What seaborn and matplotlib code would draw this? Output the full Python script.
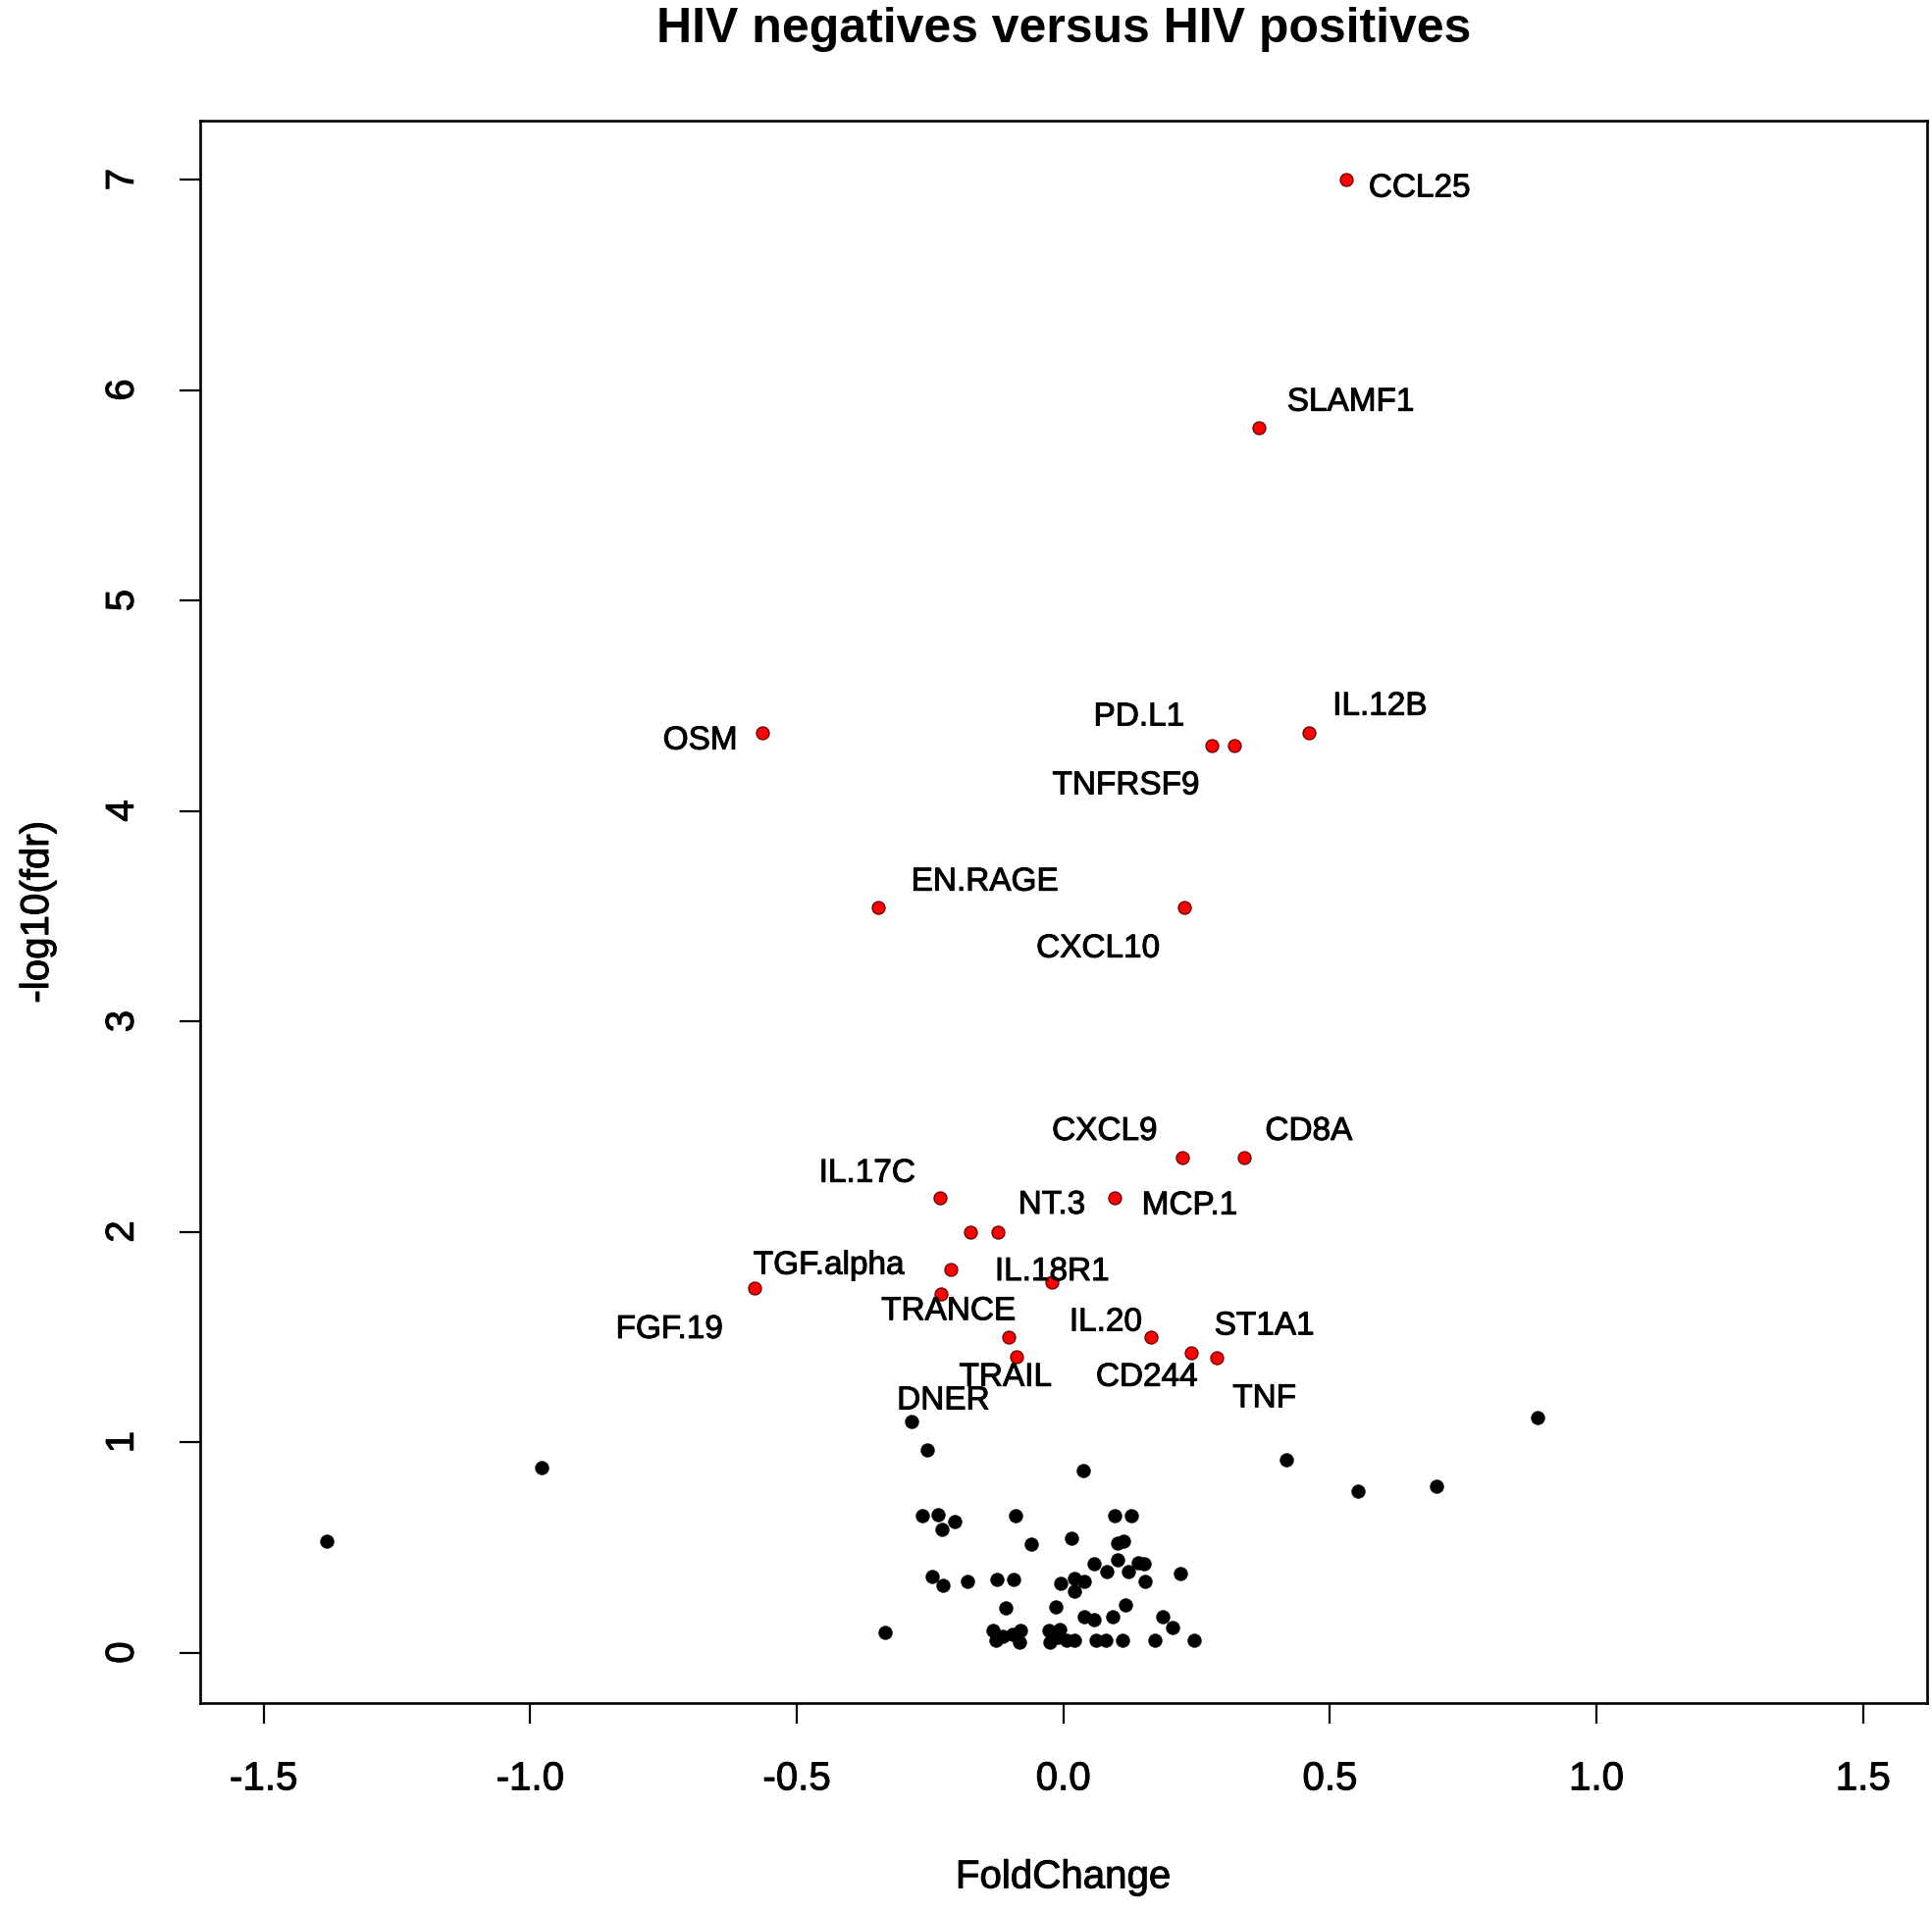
import matplotlib
matplotlib.use("Agg")
import matplotlib.pyplot as plt
import matplotlib.patheffects as pe
import seaborn as sns
import pandas as pd

# ---------------- data ----------------
sig_names = ["CCL25", "SLAMF1", "IL.12B", "PD.L1", "TNFRSF9", "OSM", "EN.RAGE",
             "CXCL10", "CXCL9", "CD8A", "IL.17C", "MCP.1", "NT.3", "IL.18R1",
             "TGF.alpha", "FGF.19", "TRANCE", "IL.20", "TRAIL", "DNER", "CD244",
             "ST1A1", "TNF"]
sig_fc = [0.530, 0.366, 0.461, 0.278, 0.320, -0.565, -0.348,
          0.227, 0.223, 0.339, -0.232, 0.097, -0.123, -0.174,
          -0.212, -0.579, -0.230, -0.022, -0.103, -0.087, 0.164,
          0.239, 0.287]
sig_logfdr = [7.00, 5.82, 4.37, 4.31, 4.31, 4.37, 3.54,
              3.54, 2.35, 2.35, 2.16, 2.16, 2.00, 2.00,
              1.82, 1.73, 1.705, 1.76, 1.498, 1.406, 1.498,
              1.425, 1.402]

ns_fc = [-1.382, -0.978, -0.285, -0.255, 0.038, 0.419, 0.553, 0.699, 0.890, -0.334,
         -0.265, -0.236, -0.203, -0.227, -0.089, -0.060, 0.015, 0.096, 0.127, 0.101,
         0.113, 0.058, 0.082, 0.101, 0.122, 0.141, 0.152, 0.154, 0.220, 0.021,
         0.040, 0.021, -0.005, -0.246, -0.226, -0.179, -0.124, -0.093, -0.108, -0.014,
         0.116, 0.040, 0.058, 0.092, 0.187, 0.205, 0.245, 0.171, 0.110, 0.061,
         0.079, 0.006, 0.021, -0.006, -0.132, -0.114, -0.095, -0.080, -0.083, -0.126,
         -0.028, -0.025, -0.010]
ns_logfdr = [0.527, 0.879, 1.096, 0.961, 0.867, 0.914, 0.767, 0.791, 1.119, 0.096,
             0.651, 0.655, 0.624, 0.585, 0.651, 0.515, 0.542, 0.651, 0.651, 0.520,
             0.531, 0.422, 0.383, 0.442, 0.383, 0.427, 0.422, 0.340, 0.375, 0.352,
             0.340, 0.290, 0.329, 0.360, 0.321, 0.337, 0.349, 0.349, 0.212, 0.215,
             0.228, 0.169, 0.158, 0.169, 0.169, 0.119, 0.060, 0.060, 0.060, 0.060,
             0.060, 0.060, 0.060, 0.111, 0.103, 0.075, 0.088, 0.103, 0.049, 0.057,
             0.103, 0.049, 0.072]

x_ticks = [-1.5, -1.0, -0.5, 0.0, 0.5, 1.0, 1.5]
x_ticklabels = ["-1.5", "-1.0", "-0.5", "0.0", "0.5", "1.0", "1.5"]
y_ticks = [0, 1, 2, 3, 4, 5, 6, 7]
y_ticklabels = ["0", "1", "2", "3", "4", "5", "6", "7"]

# ---------------- layout (label offsets in pixels: right, down) ----------------
LABEL_OFFSET_PX = {
    "CCL25": (75, 5), "SLAMF1": (94, -30), "IL.12B": (72, -31), "PD.L1": (-74, -33),
    "TNFRSF9": (-110, 37), "OSM": (-63, 4), "EN.RAGE": (109, -30), "CXCL10": (-88, 38),
    "CXCL9": (-79, -31), "CD8A": (66, -31), "IL.17C": (-74, -29), "MCP.1": (76, 4),
    "NT.3": (55, -31), "IL.18R1": (83, 37), "TGF.alpha": (-124, -8), "FGF.19": (-87, 38),
    "TRANCE": (8, 14), "IL.20": (55, 37), "TRAIL": (-3, 37), "DNER": (-75, 41),
    "CD244": (-4, 37), "ST1A1": (75, -31), "TNF": (49, 38),
}
LABEL_SHIFT_DOWN_PX = 4

W, H, DPI = 1969, 1949, 100
PX2PT = 72.0 / DPI
HEAVY = [pe.withStroke(linewidth=0.7, foreground="black")]

sns.set_theme(style="white")
plt.rcParams["font.family"] = ["Liberation Sans", "DejaVu Sans"]
plt.rcParams["axes.unicode_minus"] = False

fig = plt.figure(figsize=(W / DPI, H / DPI), dpi=DPI)
fig.patch.set_facecolor("white")
ax = fig.add_axes([203.5 / W, 1 - 1737 / H, (1964 - 203.5) / W, (1737 - 124) / H])

df_ns = pd.DataFrame({"FoldChange": ns_fc, "logfdr": ns_logfdr})
df_sig = pd.DataFrame({"FoldChange": sig_fc, "logfdr": sig_logfdr, "name": sig_names})

sns.scatterplot(data=df_ns, x="FoldChange", y="logfdr", ax=ax, color="black",
                s=100, edgecolor="black", linewidth=0.3, zorder=3)
sns.scatterplot(data=df_sig, x="FoldChange", y="logfdr", ax=ax, color="#ff0000",
                s=88, edgecolor="#5a0000", linewidth=0.9, zorder=4)

for name, xv, yv in zip(sig_names, sig_fc, sig_logfdr):
    dx, dy = LABEL_OFFSET_PX[name]
    dy += LABEL_SHIFT_DOWN_PX
    ax.annotate(name, (xv, yv), xytext=(dx * PX2PT, -dy * PX2PT),
                textcoords="offset points", ha="center", va="center",
                fontsize=24, color="black", zorder=5, path_effects=HEAVY)

ax.set_xlim(-1.62, 1.62)
ax.set_ylim(-0.24, 7.28)
ax.set_xticks(x_ticks)
ax.set_xticklabels(x_ticklabels)
ax.set_yticks(y_ticks)
ax.set_yticklabels(y_ticklabels, rotation=90, va="center")

for sp in ax.spines.values():
    sp.set_visible(True)
    sp.set_color("black")
    sp.set_linewidth(1.9)

ax.tick_params(axis="both", which="major", direction="out", length=15, width=1.6,
               color="black", labelsize=29, labelcolor="black",
               bottom=True, left=True, top=False, right=False)
ax.tick_params(axis="x", pad=27)
ax.tick_params(axis="y", pad=28)
ax.grid(False)
for lab in ax.get_xticklabels() + ax.get_yticklabels():
    lab.set_path_effects(HEAVY)

ax.set_xlabel("FoldChange", fontsize=29, color="black")
ax.set_ylabel("-log10(fdr)", fontsize=29, color="black")
ax.xaxis.set_label_coords(0.5, -0.11)
ax.xaxis.label.set_va("center")
ax.yaxis.set_label_coords(-0.094, 0.5)
ax.yaxis.label.set_va("center")
ax.xaxis.label.set_path_effects(HEAVY)
ax.yaxis.label.set_path_effects(HEAVY)

fig.text((203.5 + 1964) / 2 / W, 1 - 30 / H, "HIV negatives versus HIV positives",
         ha="center", va="center", fontsize=36, fontweight="bold", color="black")

fig.savefig("out.png", dpi=DPI, facecolor="white")
